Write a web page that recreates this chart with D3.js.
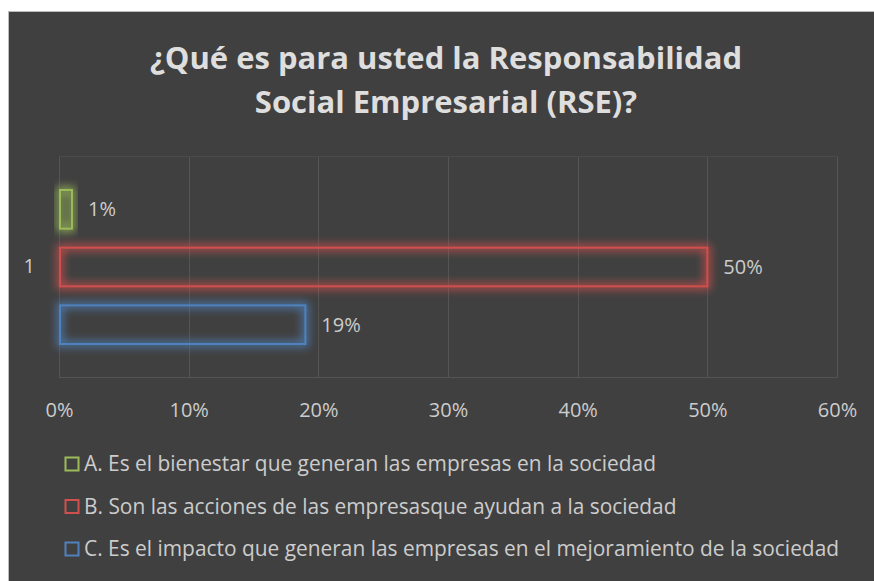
<!DOCTYPE html>
<html>
<head>
<meta charset="utf-8">
<script src="https://cdn.jsdelivr.net/npm/d3@7"></script>
<style>
  html, body { margin: 0; padding: 0; background: #ffffff; }
  svg { display: block; }
  text { font-family: "Open Sans", "DejaVu Sans", sans-serif; }
</style>
</head>
<body>
<script>
// Survey data: one category, three answer options (shares of respondents)
const categories = ["1"];
const seriesNames = [
  "A. Es el bienestar que generan las empresas en la sociedad",
  "B. Son las acciones de las empresasque ayudan a la sociedad",
  "C. Es el impacto que generan las empresas en el mejoramiento de la sociedad"
];
const seriesValues = [0.01, 0.50, 0.19];
const seriesColors = ["#9bbb59", "#d0504d", "#4f81bd"];
const xTicks = [0, 0.1, 0.2, 0.3, 0.4, 0.5, 0.6];
const titleLines = ["¿Qué es para usted la Responsabilidad", "Social Empresarial (RSE)?"];

const W = 874, H = 581;
const svg = d3.select("body").append("svg").attr("width", W).attr("height", H);

// Chart panel
svg.append("rect").attr("x", 8.5).attr("y", 11.5).attr("width", W).attr("height", H)
  .attr("fill", "#404040").attr("stroke", "#bcbcbc").attr("stroke-width", 1);

// Glow filter for the outlined bars
const defs = svg.append("defs");
const glow = defs.append("filter").attr("id", "glow")
  .attr("x", "-50%").attr("y", "-50%").attr("width", "200%").attr("height", "200%");
glow.append("feMorphology").attr("in", "SourceGraphic").attr("operator", "dilate").attr("radius", 1.5).attr("result", "thick");
glow.append("feGaussianBlur").attr("in", "thick").attr("stdDeviation", 4).attr("result", "blur");
glow.append("feComponentTransfer").attr("in", "blur").attr("result", "soft")
  .append("feFuncA").attr("type", "linear").attr("slope", 0.9);
const merge = glow.append("feMerge");
merge.append("feMergeNode").attr("in", "soft");
merge.append("feMergeNode").attr("in", "SourceGraphic");

// Plot area
const plot = { left: 59, right: 837, top: 156, bottom: 377 };
const x = d3.scaleLinear().domain([0, 0.6]).range([plot.left, plot.right]);
const yCat = d3.scaleBand().domain(categories).range([plot.top, plot.bottom]).paddingInner(0).paddingOuter(0);
const ySeries = d3.scaleBand().domain(d3.range(seriesValues.length))
  .range([yCat("1") + 34, yCat("1") + yCat.bandwidth() - 33]).paddingInner(0.33);

// Gridlines
const grid = svg.append("g");
grid.selectAll("line.v").data(xTicks).join("line")
  .attr("x1", d => Math.round(x(d)) + 0.5).attr("x2", d => Math.round(x(d)) + 0.5)
  .attr("y1", plot.top).attr("y2", plot.bottom)
  .attr("stroke", "#545454").attr("stroke-width", 1);
grid.append("line").attr("x1", plot.left).attr("x2", plot.right + 1)
  .attr("y1", plot.bottom + 0.5).attr("y2", plot.bottom + 0.5)
  .attr("stroke", "#545454");
grid.append("line").attr("x1", plot.left).attr("x2", plot.right + 1)
  .attr("y1", plot.top + 0.5).attr("y2", plot.top + 0.5)
  .attr("stroke", "#4a4a4a");

// X axis tick labels
const xAxis = d3.axisBottom(x).tickValues(xTicks).tickFormat(d3.format(".0%")).tickSize(0).tickPadding(0);
const gx = svg.append("g").attr("transform", `translate(0, ${plot.bottom + 33})`).call(xAxis);
gx.select(".domain").remove();
gx.selectAll("text").attr("font-size", 20).attr("fill", "#cccccc")
  .attr("font-family", "'Open Sans', sans-serif").attr("dy", "0.35em");

// Category label
const yAxis = d3.axisLeft(yCat).tickSize(0).tickPadding(24);
const gy = svg.append("g").attr("transform", `translate(${plot.left}, 0)`).call(yAxis);
gy.select(".domain").remove();
gy.selectAll("text").attr("font-size", 20).attr("fill", "#cccccc")
  .attr("font-family", "'Open Sans', sans-serif");

// Bars
const bars = svg.append("g");
bars.selectAll("rect").data(seriesValues).join("rect")
  .attr("x", x(0) + 1)
  .attr("y", (d, i) => ySeries(i))
  .attr("width", d => x(d) - x(0) - 1)
  .attr("height", ySeries.bandwidth())
  .attr("fill", "none")
  .attr("stroke", (d, i) => seriesColors[i])
  .attr("stroke-width", 2)
  .attr("filter", "url(#glow)");

// Value labels
svg.append("g").selectAll("text").data(seriesValues).join("text")
  .attr("x", d => x(d) + 16)
  .attr("y", (d, i) => ySeries(i) + ySeries.bandwidth() / 2)
  .attr("dy", "0.35em")
  .attr("font-size", 20).attr("fill", "#cccccc")
  .text(d => d3.format(".0%")(d));

// Title
svg.append("g").selectAll("text").data(titleLines).join("text")
  .attr("x", 446).attr("y", (d, i) => 69 + i * 44)
  .attr("text-anchor", "middle").attr("font-weight", "bold")
  .attr("font-size", 31).attr("fill", "#dedede")
  .text(d => d);

// Legend
const legend = svg.append("g");
const rows = legend.selectAll("g").data(seriesNames).join("g")
  .attr("transform", (d, i) => `translate(65, ${464 + i * 42.5})`);
rows.append("rect").attr("x", 0.5).attr("y", -6.5).attr("width", 13).attr("height", 13)
  .attr("fill", "none").attr("stroke", (d, i) => seriesColors[i]).attr("stroke-width", 2);
rows.append("text").attr("x", 19).attr("dy", "0.35em")
  .attr("font-size", 20.9).attr("fill", "#cccccc").text(d => d);
</script>
</body>
</html>
